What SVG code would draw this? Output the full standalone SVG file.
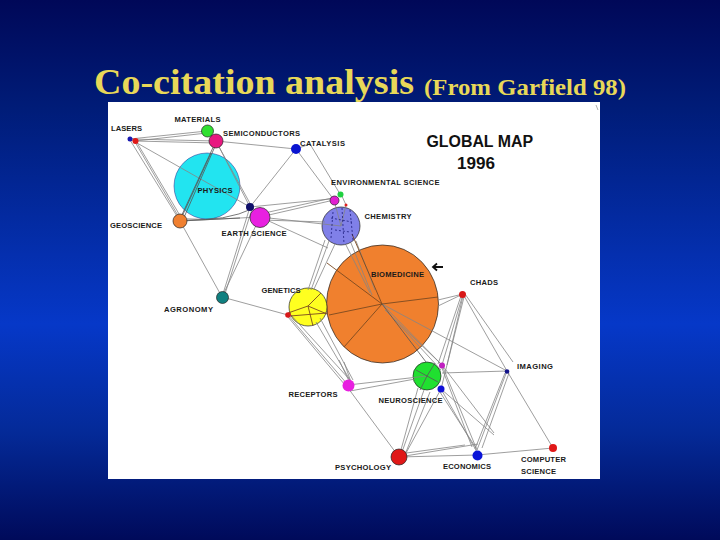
<svg xmlns="http://www.w3.org/2000/svg" width="720" height="540" viewBox="0 0 720 540">
<defs>
<linearGradient id="bg" x1="0" y1="0" x2="0" y2="1">
<stop offset="0" stop-color="#000858"/><stop offset="0.2" stop-color="#001c78"/><stop offset="0.6" stop-color="#0638c8"/><stop offset="0.8" stop-color="#042a98"/><stop offset="1" stop-color="#000a5a"/>
</linearGradient>
</defs>
<style>
.t{font-family:"Liberation Serif","Times New Roman",serif;font-weight:bold;fill:#e8d858}
.l{font-family:"Liberation Sans",Arial,sans-serif;font-weight:bold;font-size:7.6px;fill:#1a1a1a}
.h{font-family:"Liberation Sans",Arial,sans-serif;font-weight:bold;font-size:16px;fill:#111}
.c{fill:none;stroke:#858585;stroke-width:.8}
.d{fill:none;stroke:#7a4a20;stroke-width:.9}
.e{fill:none;stroke:#555;stroke-width:.8}
.n{stroke:#222;stroke-width:.7}
</style>
<rect width="720" height="540" fill="url(#bg)"/>
<text class="t" x="94" y="94" font-size="36" textLength="320" lengthAdjust="spacingAndGlyphs">Co-citation analysis</text>
<text class="t" x="424" y="95" font-size="24" textLength="202" lengthAdjust="spacingAndGlyphs">(From Garfield 98)</text>
<rect x="108" y="102" width="492" height="377" fill="#fff"/>
<path d="M596 105l2 5" stroke="#999" stroke-width=".8" fill="none"/>
<g id="nodes-back">
<circle id="physics-disc" cx="207" cy="186" r="33" fill="#22e4f0" stroke="#228" stroke-width=".5"/>
<ellipse id="biomedicine-disc" class="n" cx="382.500" cy="304" rx="56" ry="59" fill="#f0802e" stroke-width="1.300"/>
<circle id="genetics-disc" class="n" cx="308" cy="307" r="19" fill="#ffff20"/>
<circle id="chemistry-disc" class="n" cx="341" cy="226" r="19" fill="#8080e8"/>
<circle id="neuroscience-disc" class="n" cx="427" cy="376" r="14" fill="#20e030" stroke-width="1.300"/>
</g>
<g id="connectors">
<path class="c" d="M130 139L207 131M130 139L216 141M135 141L216 143M135 141L207 133M130 139L250 207M130 140L180 221M135 142L180 219M136 141L182 219"/>
<path class="c" d="M216 141L296 149M216 141L250 207M218 145L252 207M207 131L216 141M180 221L222 297M180 221L260 217M296 149L250 207M296 149L334 200M310 144L340 194M296 149L310 144"/>
<path class="c" d="M250 207L222 297M252 209L224 297M260 217L222 297M222 297L288 315"/>
<path class="c" d="M260 217L334 200M260 214L332 198M260 217L341 226M262 220L325 222M260 217L328 248M250 207L330 199"/>
<path class="c" d="M341 226L346 205M334 200L341 226M341 194L346 205"/>
<path class="c" d="M325 240L308 290M329 241L311 290M335 244L314 289M351 243L372 295M356 241L375 290M346 245L370 293"/>
<path class="c" d="M288 315L348 385M288 317L345 385M290 314L350 380M316 322L350 380M320 318L353 380M339 360L349 381M344 362L351 382"/>
<path class="c" d="M348 385L427 376M350 391L415 379M348 388L399 457"/>
<path class="c" d="M438 306L463 294M438 300L463 294M463 294L507 371M465 294L513 362M463 294L442 365M461 296L438 364M463 296L447 365M464 297L441 389M382 304L507 371"/>
<path class="c" d="M507 371L442 373M507 371L553 448M507 371L477 450M505 373L475 449M509 373L482 448M442 365L477 450M442 368L472 447M442 365L494 433M441 389L494 435M441 389L477 452M438 389L476 448"/>
<path class="c" d="M382 304L442 365M385 310L441 364M395 320L441 370"/>
<path class="c" d="M418 388L399 457M424 390L402 452M430 392L406 452M441 389L406 453M399 457L477 455M399 457L478 444M399 454L465 445M477 455L553 448"/>
<path class="e" d="M211 153L180 221M216 141L180 219M216 144L182 222M180 221L240 218M187 219Q225 222 254 208"/>
<path class="d" d="M382 304L329 315M382 304L438 297M382 304L327 263M382 304L352 234M382 304L344 347M327 313L290 316M308 306L327 314M308 306L321 293M308 306L313 326M308 306L288 313"/>
<path class="e" d="M382 304L426 362"/>
<path class="e" d="M427 376L416 370M427 376L420 390M427 376L435 363M427 376L438 382"/>
<path d="M331 218L352 222M335 230L350 232M333 212L331 238M342 208L344 244M350 210L353 240" fill="none" stroke="#101070" stroke-width=".7" stroke-dasharray="2 2"/>
</g>
<g id="lasers"><circle cx="130" cy="139" r="2.500" fill="#1818b0"/><circle cx="135.500" cy="141" r="3" fill="#e01818"/><text class="l" x="111" y="131" textLength="31">LASERS</text></g>
<g id="materials"><circle class="n" cx="207.500" cy="131" r="6" fill="#30e030"/><text class="l" x="174.500" y="121.500" textLength="46">MATERIALS</text></g>
<g id="semiconductors"><circle class="n" cx="216" cy="141" r="7" fill="#e81880"/><text class="l" x="223" y="136" textLength="77">SEMICONDUCTORS</text></g>
<g id="catalysis"><circle cx="296" cy="149" r="5" fill="#0a14d0"/><text class="l" x="300" y="145.500" textLength="45">CATALYSIS</text></g>
<g id="physics"><text class="l" x="197.500" y="193" textLength="35">PHYSICS</text></g>
<g id="geoscience"><circle class="n" cx="180" cy="221" r="7" fill="#f08030"/><text class="l" x="110" y="228" textLength="52">GEOSCIENCE</text></g>
<g id="earth-science"><circle cx="250" cy="207" r="4" fill="#10106a"/><circle class="n" cx="260" cy="217.500" r="10" fill="#e820e0"/><text class="l" x="221.500" y="236" textLength="65">EARTH SCIENCE</text></g>
<g id="agronomy"><circle class="n" cx="222.500" cy="297.500" r="6" fill="#108080"/><text class="l" x="164" y="312" textLength="49">AGRONOMY</text></g>
<g id="environmental-science"><circle cx="346" cy="205" r="1.500" fill="#e02020"/><circle cx="340.500" cy="194.500" r="3" fill="#20d040"/><circle class="n" cx="334.500" cy="200.500" r="4.500" fill="#e020d0"/><text class="l" x="331" y="184.500" textLength="108.500">ENVIRONMENTAL SCIENCE</text></g>
<g id="chemistry"><text class="l" x="364.500" y="218.500" textLength="47">CHEMISTRY</text></g>
<g id="biomedicine"><text class="l" x="371" y="277" textLength="53">BIOMEDICINE</text></g>
<g id="chads"><circle cx="462.500" cy="294.500" r="3.500" fill="#d81818"/><text class="l" x="470" y="285" textLength="28">CHADS</text></g>
<g id="genetics"><circle cx="288" cy="315" r="2.800" fill="#d81818"/><text class="l" x="261.500" y="292.500" textLength="39">GENETICS</text></g>
<g id="imaging"><circle cx="507" cy="371.500" r="2.300" fill="#14148a"/><text class="l" x="517" y="368.500" textLength="36">IMAGING</text></g>
<g id="neuroscience"><circle cx="442" cy="365.500" r="3" fill="#c020c0"/><circle cx="441" cy="389" r="3.500" fill="#1010d8"/><text class="l" x="378.500" y="402.500" textLength="64">NEUROSCIENCE</text></g>
<g id="receptors"><circle cx="348.500" cy="385.500" r="6" fill="#e820e0"/><text class="l" x="288.500" y="397" textLength="49">RECEPTORS</text></g>
<g id="psychology"><circle class="n" cx="399" cy="457" r="8" fill="#e01818"/><text class="l" x="335" y="470" textLength="56">PSYCHOLOGY</text></g>
<g id="economics"><circle cx="477.500" cy="455.500" r="5" fill="#0a14d8"/><text class="l" x="443" y="469" textLength="48">ECONOMICS</text></g>
<g id="computer-science"><circle cx="553" cy="448" r="4" fill="#e01818"/><text class="l" x="521" y="462" textLength="45">COMPUTER</text><text class="l" x="521" y="473.500" textLength="35">SCIENCE</text></g>
<g id="title-map"><text class="h" x="426.500" y="147" textLength="106.500" lengthAdjust="spacingAndGlyphs">GLOBAL MAP</text><text class="h" x="457" y="168.500" textLength="38" lengthAdjust="spacingAndGlyphs">1996</text></g>
<path id="arrow" d="M443 267H433M437 263.500L433 267L437 270.500" fill="none" stroke="#111" stroke-width="1.800"/>
</svg>
